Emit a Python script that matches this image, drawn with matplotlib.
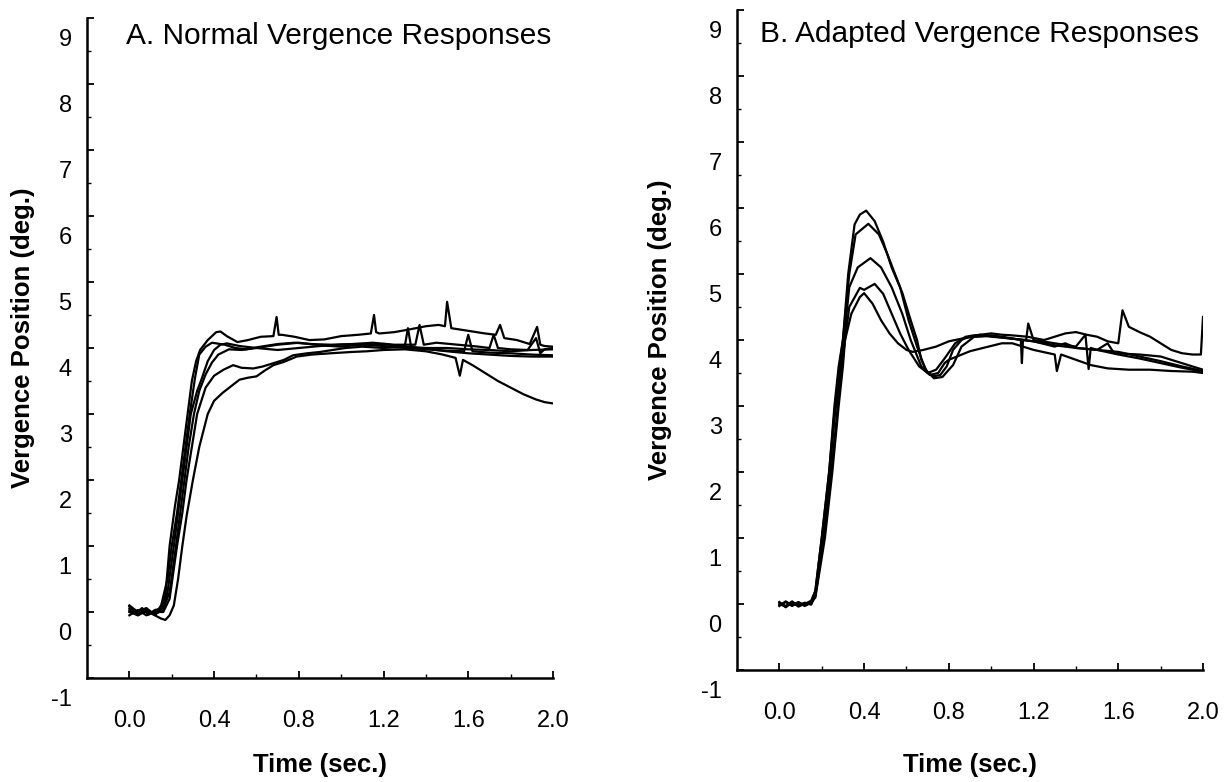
import matplotlib
matplotlib.use("Agg")
import matplotlib.pyplot as plt
from matplotlib.transforms import ScaledTranslation

plt.rcParams['font.family'] = ['Liberation Sans', 'DejaVu Sans']

# ---------------- data ----------------
y_ticks = [-1, 0, 1, 2, 3, 4, 5, 6, 7, 8, 9]
x_ticks = [0.0, 0.4, 0.8, 1.2, 1.6, 2.0]
x_tick_labels = ["0.0", "0.4", "0.8", "1.2", "1.6", "2.0"]
title_a = "A. Normal Vergence Responses"
title_b = "B. Adapted Vergence Responses"
x_label = "Time (sec.)"
y_label = "Vergence Position (deg.)"

# Panel A: normal vergence responses
a1_t = [0.00, 0.03, 0.06, 0.09, 0.12, 0.15, 0.17, 0.19, 0.215, 0.235, 0.255, 0.275, 0.295, 0.315, 0.334,
        0.37, 0.41, 0.43, 0.46, 0.51, 0.56, 0.62, 0.68, 0.695, 0.705, 0.72, 0.78, 0.85, 0.92, 1.00,
        1.08, 1.14, 1.155, 1.165, 1.18, 1.25, 1.32, 1.40, 1.46, 1.49, 1.50, 1.52, 1.56, 1.62, 1.68,
        1.73, 1.75, 1.77, 1.83, 1.89, 1.925, 1.94, 1.96, 2.00]
a1_v = [0.08, -0.02, 0.06, -0.04, 0.03, 0.05, 0.25, 1.0, 1.6, 2.0, 2.5, 3.0, 3.5, 3.8, 3.97,
        4.12, 4.24, 4.25, 4.18, 4.09, 4.12, 4.17, 4.18, 4.47, 4.2, 4.2, 4.17, 4.12, 4.13, 4.18,
        4.2, 4.22, 4.5, 4.24, 4.22, 4.24, 4.28, 4.33, 4.35, 4.33, 4.7, 4.3, 4.28, 4.25, 4.22,
        4.2, 4.35, 4.15, 4.12, 4.06, 4.32, 4.05, 4.03, 4.02]

a2_t = [0.00, 0.04, 0.08, 0.12, 0.16, 0.18, 0.21, 0.23, 0.25, 0.27, 0.29, 0.32, 0.34, 0.37, 0.40,
        0.43, 0.46, 0.52, 0.60, 0.70, 0.80, 0.90, 1.00, 1.10, 1.20, 1.30, 1.40, 1.50, 1.60, 1.70,
        1.80, 1.90, 2.00]
a2_v = [0.05, -0.05, 0.02, -0.03, 0.03, 0.3, 1.0, 1.5, 2.0, 2.5, 3.0, 3.35, 3.52, 3.8, 3.97,
        4.05, 4.07, 4.03, 4.0, 4.05, 4.08, 4.04, 4.02, 4.05, 4.06, 4.02, 4.0, 4.0, 3.98, 3.97,
        3.95, 3.97, 3.98]

a3_t = [0.00, 0.04, 0.08, 0.12, 0.16, 0.19, 0.225, 0.25, 0.27, 0.295, 0.32, 0.36, 0.40, 0.444, 0.49,
        0.53, 0.585, 0.63, 0.68, 0.73, 0.773, 0.84, 0.90, 0.96, 1.02, 1.10, 1.20, 1.30, 1.315, 1.33,
        1.36, 1.42, 1.50, 1.60, 1.70, 1.80, 1.90, 2.00]
a3_v = [-0.05, 0.03, -0.05, 0.0, 0.0, 0.2, 1.0, 1.5, 2.0, 2.5, 3.0, 3.4, 3.58, 3.67, 3.74,
        3.7, 3.69, 3.72, 3.77, 3.82, 3.89, 3.92, 3.94, 3.97, 4.0, 4.02, 4.0, 4.02, 4.3, 4.02,
        4.0, 3.98, 3.95, 3.92, 3.9, 3.88, 3.87, 3.87]

a4_t = [0.00, 0.04, 0.08, 0.12, 0.15, 0.17, 0.19, 0.21, 0.23, 0.25, 0.27, 0.30, 0.33, 0.37, 0.40,
        0.44, 0.48, 0.52, 0.56, 0.60, 0.64, 0.68, 0.73, 0.79, 0.86, 0.95, 1.05, 1.12, 1.20, 1.30,
        1.40, 1.48, 1.54, 1.56, 1.575, 1.62, 1.68, 1.74, 1.80, 1.86, 1.92, 1.96, 2.00]
a4_v = [0.0, -0.05, 0.02, -0.05, -0.1, -0.12, -0.05, 0.1, 0.5, 1.0, 1.45, 2.0, 2.5, 3.0, 3.2,
        3.32, 3.42, 3.52, 3.55, 3.57, 3.66, 3.74, 3.79, 3.87, 3.9, 3.92, 3.94, 3.95, 3.97, 3.98,
        3.95, 3.9, 3.85, 3.58, 3.82, 3.74, 3.62, 3.5, 3.4, 3.3, 3.22, 3.18, 3.16]

a5_t = [0.00, 0.04, 0.08, 0.12, 0.15, 0.18, 0.20, 0.225, 0.245, 0.265, 0.285, 0.31, 0.33, 0.36, 0.39,
        0.45, 0.50, 0.55, 0.62, 0.70, 0.78, 0.86, 0.95, 1.05, 1.15, 1.25, 1.35, 1.37, 1.39, 1.45,
        1.55, 1.65, 1.70, 1.72, 1.74, 1.80, 1.88, 1.92, 1.94, 1.96, 2.00]
a5_v = [0.1, 0.0, 0.06, -0.04, 0.1, 0.5, 1.0, 1.5, 2.0, 2.5, 3.0, 3.55, 3.9, 4.02, 4.08,
        4.05, 4.0, 3.98, 4.02, 4.06, 4.08, 4.06, 4.05, 4.06, 4.08, 4.05, 4.05, 4.35, 4.05, 4.08,
        4.05, 4.02, 4.0, 4.2, 4.0, 3.98, 3.97, 4.15, 3.92, 3.98, 4.0]

a6_t = [0.00, 0.04, 0.08, 0.12, 0.16, 0.19, 0.22, 0.24, 0.26, 0.28, 0.305, 0.33, 0.36, 0.39, 0.42,
        0.47, 0.53, 0.60, 0.70, 0.80, 0.90, 1.00, 1.10, 1.20, 1.30, 1.40, 1.50, 1.58, 1.60, 1.62,
        1.70, 1.80, 1.90, 2.00]
a6_v = [0.02, -0.03, 0.04, -0.04, 0.05, 0.3, 1.0, 1.5, 2.0, 2.5, 3.0, 3.35, 3.6, 3.78, 3.9,
        3.98, 3.97, 4.0, 3.97, 4.0, 4.03, 4.05, 4.05, 4.03, 4.0, 3.98, 3.96, 3.95, 4.2, 3.95,
        3.93, 3.92, 3.9, 3.89]

# Panel B: adapted vergence responses
b1_t = [0.00, 0.03, 0.06, 0.09, 0.12, 0.15, 0.17, 0.20, 0.235, 0.26, 0.28, 0.30, 0.325, 0.355, 0.38,
        0.41, 0.45, 0.49, 0.53, 0.58, 0.62, 0.65, 0.67, 0.70, 0.73, 0.76, 0.79, 0.82, 0.86, 0.90,
        0.95, 1.00, 1.05, 1.10, 1.17, 1.25, 1.30, 1.35, 1.40, 1.45, 1.50, 1.55, 1.60, 1.62, 1.65,
        1.70, 1.75, 1.80, 1.85, 1.90, 1.95, 1.99, 2.00]
b1_v = [0.03, -0.05, 0.02, -0.03, 0.0, 0.05, 0.2, 1.0, 2.0, 3.0, 3.6, 4.0, 5.0, 5.75, 5.9,
        5.96, 5.8, 5.49, 5.1, 4.72, 4.3, 4.0, 3.7, 3.5, 3.45, 3.47, 3.6, 3.85, 4.0, 4.06,
        4.08, 4.1, 4.08, 4.07, 4.05, 4.0, 4.05, 4.1, 4.12, 4.08, 4.05, 3.98, 3.95, 4.45, 4.2,
        4.12, 4.05, 3.95, 3.85, 3.8, 3.78, 3.78, 4.35]

b2_t = [0.00, 0.03, 0.06, 0.09, 0.12, 0.15, 0.17, 0.20, 0.235, 0.26, 0.28, 0.30, 0.33, 0.36, 0.42,
        0.47, 0.51, 0.57, 0.61, 0.65, 0.69, 0.73, 0.77, 0.80, 0.82, 0.86, 0.92, 1.00, 1.05, 1.14,
        1.145, 1.15, 1.20, 1.30, 1.40, 1.50, 1.60, 1.70, 1.80, 1.90, 2.00]
b2_v = [-0.03, 0.04, -0.02, 0.03, -0.02, 0.02, 0.2, 1.0, 2.0, 2.9, 3.5, 4.0, 5.0, 5.6, 5.76,
        5.6, 5.3, 4.8, 4.3, 3.9, 3.55, 3.42, 3.44, 3.55, 3.62, 3.9, 4.05, 4.07, 4.05, 4.0,
        3.65, 4.0, 3.98, 3.92, 3.88, 3.85, 3.78, 3.72, 3.65, 3.58, 3.52]

b3_t = [0.00, 0.03, 0.06, 0.09, 0.12, 0.15, 0.17, 0.20, 0.235, 0.26, 0.285, 0.305, 0.33, 0.37, 0.43,
        0.48, 0.53, 0.58, 0.62, 0.67, 0.71, 0.75, 0.78, 0.80, 0.90, 1.00, 1.05, 1.10, 1.20, 1.30,
        1.31, 1.33, 1.40, 1.47, 1.55, 1.65, 1.75, 1.85, 1.95, 2.00]
b3_v = [0.0, -0.04, 0.03, -0.02, 0.02, -0.01, 0.15, 0.9, 1.9, 2.8, 3.5, 4.0, 4.8, 5.1, 5.24,
        5.1, 4.8, 4.4, 4.0, 3.6, 3.47, 3.5, 3.65, 3.7, 3.83, 3.91, 3.95, 3.95, 3.85, 3.78,
        3.53, 3.78, 3.7, 3.62, 3.57, 3.55, 3.55, 3.53, 3.52, 3.5]

b4_t = [0.00, 0.03, 0.06, 0.09, 0.12, 0.15, 0.17, 0.21, 0.245, 0.27, 0.29, 0.31, 0.33, 0.38, 0.40,
        0.45, 0.49, 0.53, 0.57, 0.61, 0.66, 0.70, 0.74, 0.78, 0.83, 0.88, 0.95, 1.00, 1.10, 1.165,
        1.175, 1.20, 1.30, 1.40, 1.445, 1.46, 1.47, 1.50, 1.60, 1.70, 1.80, 1.90, 2.00]
b4_v = [0.02, -0.03, 0.04, -0.04, 0.01, 0.0, 0.12, 1.0, 2.0, 2.8, 3.5, 4.0, 4.5, 4.79, 4.76,
        4.85, 4.7, 4.4, 4.1, 3.85, 3.6, 3.5, 3.55, 3.72, 3.95, 4.05, 4.08, 4.05, 4.02, 4.0,
        4.25, 4.0, 3.95, 3.9, 4.08, 3.56, 3.88, 3.85, 3.82, 3.75, 3.68, 3.6, 3.53]

b5_t = [0.00, 0.03, 0.06, 0.09, 0.12, 0.15, 0.17, 0.215, 0.25, 0.28, 0.30, 0.31, 0.34, 0.38, 0.40,
        0.44, 0.48, 0.52, 0.56, 0.60, 0.63, 0.68, 0.74, 0.80, 0.86, 0.92, 1.00, 1.10, 1.20, 1.30,
        1.35, 1.40, 1.50, 1.55, 1.58, 1.70, 1.80, 1.90, 2.00]
b5_v = [-0.02, 0.03, -0.03, 0.02, -0.03, 0.02, 0.1, 1.0, 2.0, 3.0, 3.6, 4.0, 4.4, 4.65, 4.71,
        4.55, 4.3, 4.1, 3.95, 3.85, 3.82, 3.85, 3.9, 3.98, 4.02, 4.05, 4.06, 4.02, 3.98, 3.9,
        3.95, 3.88, 3.85, 3.95, 3.8, 3.78, 3.75, 3.65, 3.55]

panel_a = [(a1_t, a1_v), (a2_t, a2_v), (a3_t, a3_v), (a4_t, a4_v), (a5_t, a5_v), (a6_t, a6_v)]
panel_b = [(b1_t, b1_v), (b2_t, b2_v), (b3_t, b3_v), (b4_t, b4_v), (b5_t, b5_v)]

# ---------------- figure ----------------
W, H, DPI = 1226, 782, 100
fig = plt.figure(figsize=(W / DPI, H / DPI), dpi=DPI)

def px_rect(left, top, right, bottom):
    return [left / W, 1 - bottom / H, (right - left) / W, (bottom - top) / H]

ax_a = fig.add_axes(px_rect(87, 18, 553, 678))
ax_b = fig.add_axes(px_rect(737, 10, 1203, 670))

def style_axis(ax, traces, ylabel_x, xlabelpad):
    for t, v in traces:
        ax.plot(t, v, color='black', lw=1.6, solid_joinstyle='round')
    ax.set_xlim(-0.2, 2.0)
    ax.set_ylim(-1, 9)
    for s in ['top', 'right']:
        ax.spines[s].set_visible(False)
    for s in ['left', 'bottom']:
        ax.spines[s].set_linewidth(1.8)
    ax.set_yticks(y_ticks)
    ax.set_yticklabels([str(v) for v in y_ticks])
    ax.set_yticks([v + 0.5 for v in y_ticks[:-1]], minor=True)
    ax.set_xticks(x_ticks)
    ax.set_xticklabels(x_tick_labels)
    ax.set_xticks([0.2, 0.6, 1.0, 1.4, 1.8], minor=True)
    ax.tick_params(axis='both', which='major', direction='in', length=5, width=1.3, labelsize=17)
    ax.tick_params(axis='both', which='minor', direction='in', length=3, width=1.0)
    ax.tick_params(axis='y', which='major', pad=11)
    ax.tick_params(axis='x', which='major', pad=23)
    offset = ScaledTranslation(0, -19 / DPI, fig.dpi_scale_trans)
    for lab in ax.get_yticklabels():
        lab.set_transform(lab.get_transform() + offset)
    ax.set_xlabel(x_label, fontsize=18.5, fontweight='bold', labelpad=xlabelpad)
    ax.set_ylabel(y_label, fontsize=18.5, fontweight='bold')
    ax.yaxis.set_label_coords(ylabel_x, 0.515)

style_axis(ax_a, panel_a, -0.112, 15)
style_axis(ax_b, panel_b, -0.139, 21)

fig.text(126 / W, 1 - 44 / H, title_a, fontsize=21.5, ha='left', va='baseline')
fig.text(760 / W, 1 - 42 / H, title_b, fontsize=21.5, ha='left', va='baseline')

fig.savefig("out.png", dpi=DPI)
